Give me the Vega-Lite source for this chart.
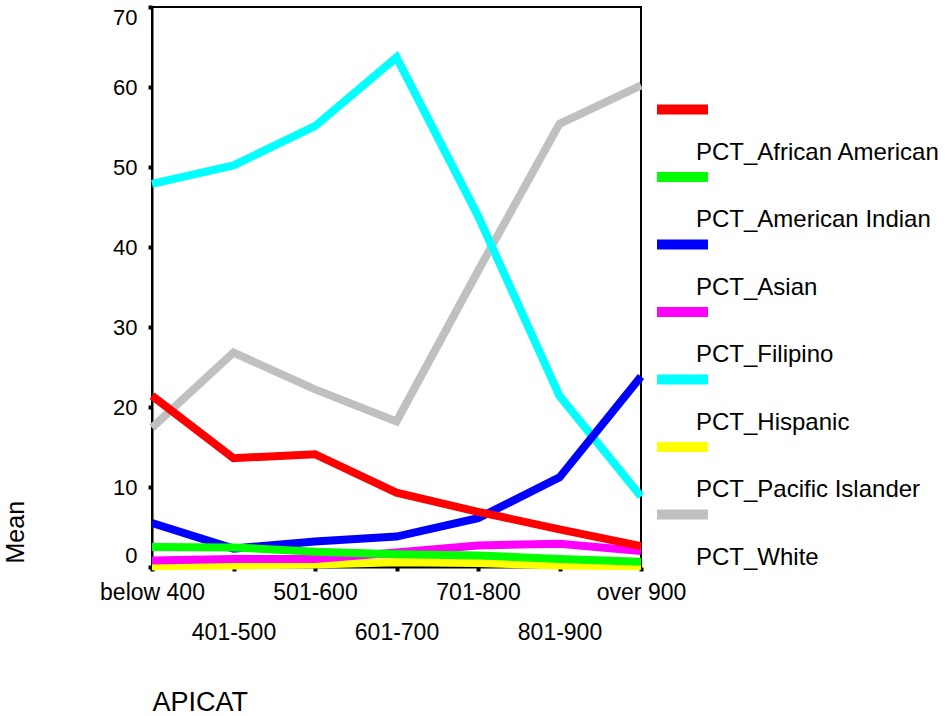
{
  "$schema": "https://vega.github.io/schema/vega-lite/v6.json",
  "width": 489,
  "height": 560,
  "autosize": {"type": "none"},
  "padding": {"left": 152, "top": 7, "right": 304, "bottom": 149},
  "background": "white",
  "config": {
    "view": {"stroke": "black", "strokeWidth": 2},
    "font": "Liberation Sans",
    "axis": {
      "domainColor": "black", "domainWidth": 2,
      "tickColor": "black", "tickWidth": 4, "tickSize": 4,
      "grid": false, "labelColor": "black", "titleColor": "black",
      "labelFont": "Liberation Sans", "titleFont": "Liberation Sans", "titleFontWeight": "normal"
    }
  },
  "data": {
    "values": [
      {"APICAT": "below 400", "Variable": "PCT_White", "Mean": 17.4},
      {"APICAT": "401-500", "Variable": "PCT_White", "Mean": 26.8},
      {"APICAT": "501-600", "Variable": "PCT_White", "Mean": 22.2},
      {"APICAT": "601-700", "Variable": "PCT_White", "Mean": 18.2},
      {"APICAT": "701-800", "Variable": "PCT_White", "Mean": 37.0},
      {"APICAT": "801-900", "Variable": "PCT_White", "Mean": 55.4},
      {"APICAT": "over 900", "Variable": "PCT_White", "Mean": 60.2},
      {"APICAT": "below 400", "Variable": "PCT_Pacific Islander", "Mean": 0.1},
      {"APICAT": "401-500", "Variable": "PCT_Pacific Islander", "Mean": 0.2},
      {"APICAT": "501-600", "Variable": "PCT_Pacific Islander", "Mean": 0.3},
      {"APICAT": "601-700", "Variable": "PCT_Pacific Islander", "Mean": 0.6},
      {"APICAT": "701-800", "Variable": "PCT_Pacific Islander", "Mean": 0.5},
      {"APICAT": "801-900", "Variable": "PCT_Pacific Islander", "Mean": 0.2},
      {"APICAT": "over 900", "Variable": "PCT_Pacific Islander", "Mean": 0.1},
      {"APICAT": "below 400", "Variable": "PCT_Hispanic", "Mean": 47.9},
      {"APICAT": "401-500", "Variable": "PCT_Hispanic", "Mean": 50.2},
      {"APICAT": "501-600", "Variable": "PCT_Hispanic", "Mean": 55.1},
      {"APICAT": "601-700", "Variable": "PCT_Hispanic", "Mean": 63.7},
      {"APICAT": "701-800", "Variable": "PCT_Hispanic", "Mean": 43.9},
      {"APICAT": "801-900", "Variable": "PCT_Hispanic", "Mean": 21.4},
      {"APICAT": "over 900", "Variable": "PCT_Hispanic", "Mean": 8.8},
      {"APICAT": "below 400", "Variable": "PCT_Filipino", "Mean": 0.8},
      {"APICAT": "401-500", "Variable": "PCT_Filipino", "Mean": 1.0},
      {"APICAT": "501-600", "Variable": "PCT_Filipino", "Mean": 1.0},
      {"APICAT": "601-700", "Variable": "PCT_Filipino", "Mean": 1.8},
      {"APICAT": "701-800", "Variable": "PCT_Filipino", "Mean": 2.7},
      {"APICAT": "801-900", "Variable": "PCT_Filipino", "Mean": 2.9},
      {"APICAT": "over 900", "Variable": "PCT_Filipino", "Mean": 2.0},
      {"APICAT": "below 400", "Variable": "PCT_Asian", "Mean": 5.5},
      {"APICAT": "401-500", "Variable": "PCT_Asian", "Mean": 2.3},
      {"APICAT": "501-600", "Variable": "PCT_Asian", "Mean": 3.2},
      {"APICAT": "601-700", "Variable": "PCT_Asian", "Mean": 3.8},
      {"APICAT": "701-800", "Variable": "PCT_Asian", "Mean": 6.1},
      {"APICAT": "801-900", "Variable": "PCT_Asian", "Mean": 11.2},
      {"APICAT": "over 900", "Variable": "PCT_Asian", "Mean": 23.8},
      {"APICAT": "below 400", "Variable": "PCT_American Indian", "Mean": 2.5},
      {"APICAT": "401-500", "Variable": "PCT_American Indian", "Mean": 2.45},
      {"APICAT": "501-600", "Variable": "PCT_American Indian", "Mean": 1.9},
      {"APICAT": "601-700", "Variable": "PCT_American Indian", "Mean": 1.6},
      {"APICAT": "701-800", "Variable": "PCT_American Indian", "Mean": 1.45},
      {"APICAT": "801-900", "Variable": "PCT_American Indian", "Mean": 1.0},
      {"APICAT": "over 900", "Variable": "PCT_American Indian", "Mean": 0.65},
      {"APICAT": "below 400", "Variable": "PCT_African American", "Mean": 21.4},
      {"APICAT": "401-500", "Variable": "PCT_African American", "Mean": 13.6},
      {"APICAT": "501-600", "Variable": "PCT_African American", "Mean": 14.1},
      {"APICAT": "601-700", "Variable": "PCT_African American", "Mean": 9.3},
      {"APICAT": "701-800", "Variable": "PCT_African American", "Mean": 6.9},
      {"APICAT": "801-900", "Variable": "PCT_African American", "Mean": 4.7},
      {"APICAT": "over 900", "Variable": "PCT_African American", "Mean": 2.6}
    ]
  },
  "mark": {"type": "line", "strokeWidth": 8, "strokeJoin": "miter", "strokeCap": "butt"},
  "encoding": {
    "x": {
      "field": "APICAT", "type": "ordinal",
      "sort": ["below 400", "401-500", "501-600", "601-700", "701-800", "801-900", "over 900"],
      "scale": {"type": "point", "padding": 0},
      "axis": {
        "title": "APICAT", "titleFontSize": 27, "titleAnchor": "start", "titleAlign": "left",
        "titleBaseline": "alphabetic", "titleX": 0, "titleY": 143,
        "labelAngle": 0, "labelFontSize": 23, "labelPadding": 10, "labelOverlap": false,
        "labelBaseline": "top", "labelLineHeight": 40,
        "labelExpr": "indexof(['401-500','601-700','801-900'], datum.label) >= 0 ? ['', datum.label] : datum.label"
      }
    },
    "y": {
      "field": "Mean", "type": "quantitative",
      "scale": {"domain": [0, 70], "nice": false},
      "axis": {
        "title": "Mean", "titleFontSize": 25, "titleAlign": "left", "titleBaseline": "alphabetic",
        "titleX": -129, "titleY": 556, "titleAngle": -90,
        "values": [0, 10, 20, 30, 40, 50, 60, 70],
        "labelFontSize": 22, "labelPadding": 11, "labelFlush": true
      }
    },
    "color": {
      "field": "Variable", "type": "nominal",
      "scale": {
        "domain": ["PCT_African American", "PCT_American Indian", "PCT_Asian", "PCT_Filipino", "PCT_Hispanic", "PCT_Pacific Islander", "PCT_White"],
        "range": ["#FF0000", "#00FF00", "#0000FF", "#FF00FF", "#00FFFF", "#FFFF00", "#C0C0C0"]
      },
      "legend": {
        "title": null, "orient": "none", "legendX": 500, "legendY": 115, "padding": 0,
        "symbolType": "M-1,-1.69L1,-1.69", "symbolStrokeWidth": 10, "symbolSize": 2601,
        "labelFontSize": 24, "labelFont": "Liberation Sans", "labelColor": "black",
        "labelOffset": -17, "labelLimit": 400, "rowPadding": -8.5
      }
    }
  }
}
